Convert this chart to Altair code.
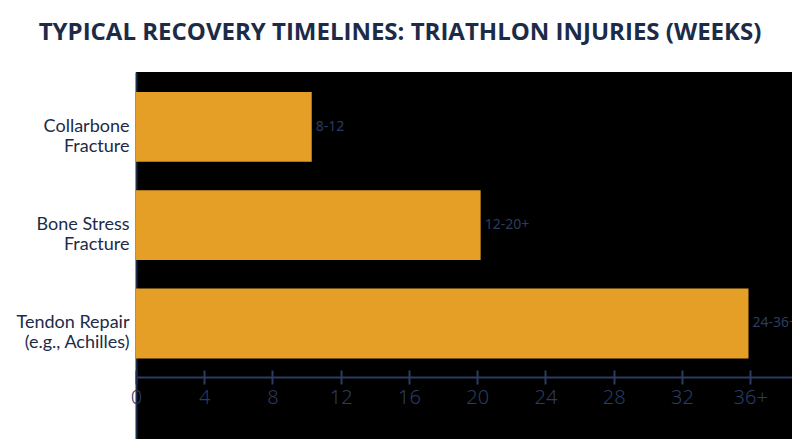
import altair as alt
import pandas as pd

categories = ["Collarbone|Fracture", "Bone Stress|Fracture", "Tendon Repair|(e.g., Achilles)"]
weeks = [10.3, 20.2, 35.9]
range_labels = ["8-12", "12-20+", "24-36+"]
tick_values = [0, 4, 8, 12, 16, 20, 24, 28, 32, 36]

df = pd.DataFrame({"injury": categories, "weeks": weeks, "label": range_labels})

NAVY = "#1c2b48"
DIM = "#2b3c60"
ORANGE = "#E69F26"

y_enc = alt.Y(
    "injury:N",
    sort=categories,
    title=None,
    scale=alt.Scale(paddingInner=0.29, paddingOuter=0.512, align=0.199),
    axis=alt.Axis(
        labelExpr="split(datum.label, '|')",
        labelFont="Lato",
        labelFontSize=18,
        labelLineHeight=20,
        labelColor=NAVY,
        labelPadding=7,
        ticks=False,
        domainColor=NAVY,
        domainWidth=2,
        labelAlign="right",
    ),
)

x_scale = alt.Scale(domain=[0, 38.45], nice=False)

bars = alt.Chart(df).mark_bar(color=ORANGE).encode(
    x=alt.X(
        "weeks:Q",
        scale=x_scale,
        title=None,
        axis=alt.Axis(
            orient="bottom",
            values=tick_values,
            labelExpr="datum.value == 36 ? '36+' : datum.label",
            labelFlush=False,
            domain=False,
            grid=False,
            tickSize=14,
            tickColor=DIM,
            tickWidth=2,
            offset=-69,
            labelFont="Noto Sans",
            labelFontWeight=300,
            labelFontSize=20,
            labelColor=DIM,
            labelPadding=3,
        ),
    ),
    y=y_enc,
)

texts = alt.Chart(df).mark_text(
    align="left", baseline="middle", dx=4, font="Noto Sans", fontSize=14, color=DIM
).encode(
    x=alt.X(
        "weeks:Q",
        scale=x_scale,
        title=None,
        axis=alt.Axis(
            orient="bottom",
            values=tick_values,
            labels=False,
            ticks=False,
            grid=False,
            domainColor=DIM,
            domainWidth=2,
            offset=-62,
        ),
    ),
    y=alt.Y("injury:N", sort=categories),
    text="label:N",
)

chart = (
    alt.layer(bars, texts)
    .resolve_axis(x="independent")
    .properties(
        width=656,
        height=367,
        background="white",
        autosize=alt.AutoSizeParams(type="none"),
        padding={"left": 128, "top": 64, "right": 0, "bottom": 0},
        title=alt.TitleParams(
            "TYPICAL RECOVERY TIMELINES: TRIATHLON INJURIES (WEEKS)",
            font="Open Sans",
            fontSize=24,
            fontWeight="bold",
            color=NAVY,
            anchor="middle",
            dx=-64,
            offset=8,
            baseline="alphabetic",
        ),
    )
    .configure_view(fill="black", strokeWidth=0)
)

chart.save("out.html", embed_options={"renderer": "svg", "actions": False})
